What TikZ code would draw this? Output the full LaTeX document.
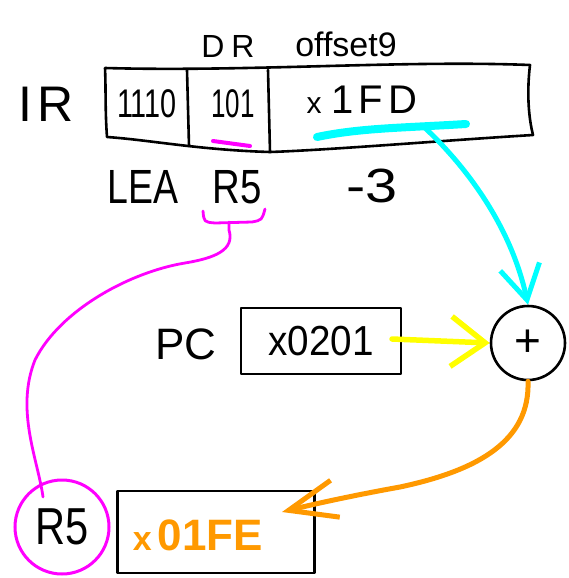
\documentclass[tikz,border=0pt]{standalone}
\usepackage{fontspec}
\setmainfont{Liberation Sans}
\usetikzlibrary{arrows.meta}
\definecolor{hlcyan}{RGB}{0,255,255}
\definecolor{hlyellow}{RGB}{255,255,0}
\definecolor{hlorange}{RGB}{255,153,0}
\definecolor{hlmagenta}{RGB}{255,0,255}
\newcommand{\fs}[1]{\fontsize{#1}{#1}\selectfont}
\tikzset{
  txt/.style={inner sep=0pt, anchor=center, text=black},
  ink/.style={line width=2.6pt, line cap=round, line join=round},
  pen/.style={line width=2.8pt, line cap=round, line join=round},
  marker/.style={line cap=round, line join=round},
}
\begin{document}
\begin{tikzpicture}[x=1pt,y=-1pt]
\useasboundingbox (0,0) rectangle (569,578);

% field names above the instruction register
\node[txt, font=\fs{32}] (dr) at (228,46) {D\hspace{7pt}R};
\node[txt, font=\fs{34}] (off) at (346,44) {offset9};

% instruction register
\node[txt, font=\fs{50}] (ir) at (46,104) {I\hspace{6pt}R};
\coordinate (irtl) at (105,68);
\coordinate (irtr) at (530,65);
\coordinate (irbr) at (533,135);
\coordinate (irbm) at (270,152);
\coordinate (irbl) at (107,137);
\draw[ink] (irtl) .. controls (250,72) and (400,60) .. (irtr)
  .. controls (527,90) and (528,115) .. (irbr)
  .. controls (450,140) and (330,150) .. (irbm)
  .. controls (200,150) and (150,140) .. (irbl)
  .. controls (105,110) and (106,90) .. (irtl);
\draw[ink] (187,70) -- (189,146);
\draw[ink] (268,70) -- (270,152);

\node[txt, font=\fs{40}] (opc) at (147,104) {\scalebox{0.72}[1]{1110}};
\node[txt, font=\fs{40}] (dreg) at (233,104) {\scalebox{0.65}[1]{101}};
\node[txt, font=\fs{40}] (offv) at (362,100) {\fs{30}x\hspace{10pt}\fs{40}1\hspace{5pt}F\hspace{5pt}D};

% highlight strokes
\draw[hlmagenta, marker, line width=4pt] (213,141) -- (250,146);
\draw[hlcyan, marker, line width=8pt] (317,137) .. controls (360,128) and (400,128) .. (466,124);

% assembly form
\node[txt, font=\fs{48}] (lea) at (143,187) {\scalebox{0.78}[1]{LEA}};
\node[txt, font=\fs{48}] (rd) at (237,187) {\scalebox{0.8}[1]{R5}};
\node[txt, font=\fs{48}] (imm) at (372,186) {\scalebox{1.2}[1]{-3}};

% brace under R5 and its wire to the register
\draw[hlmagenta, pen] (203,211) .. controls (204,222) .. (215,223)
  -- (252,222) .. controls (262,220) .. (265,209);
\coordinate (bracetip) at (229,222);
\coordinate (wireend) at (43,497);
\draw[hlmagenta, pen] (bracetip) -- (229,230)
  .. controls (235,250) and (215,258) .. (185,263)
  .. controls (130,272) and (60,310) .. (35,360)
  .. controls (15,410) and (38,460) .. (wireend);

% program counter
\node[txt, font=\fs{44}] (pc) at (186,344) {PC};
\node[ink, draw, minimum width=160pt, minimum height=66pt, inner sep=0pt,
      font=\fs{42}] (pcval) at (321,341) {\scalebox{0.92}[1]{x0201}};

% adder
\node[ink, draw, circle, minimum size=74pt, inner sep=0pt, font=\fs{46}] (plus) at (528,343) {+};

% destination register and result
\node[draw=hlmagenta, line width=3pt, circle, minimum size=94pt, inner sep=0pt,
      font=\fs{52}] (r5) at (62,527) {\scalebox{0.8}[1]{R5}};
\node[ink, draw, minimum width=197pt, minimum height=82pt, inner sep=0pt] (res) at (216,532) {};
\node[txt, text=hlorange, font=\bfseries\fs{44}] (resv) at (198,535) {\fs{34}x\hspace{6pt}\fs{44}01FE};

% data flow
\coordinate (cyanstart) at (424,127);
\draw[hlcyan, marker, line width=5pt, -{Straight Barb[length=34pt,width=40pt]}]
  (cyanstart) .. controls (470,170) and (512,230) .. (plus.north);

\coordinate (pcout) at (392,339);
\draw[hlyellow, marker, line width=5.5pt, -{Straight Barb[length=34pt,width=50pt]}]
  (pcout) -- (plus.west);

\coordinate (restip) at (282,512);
\draw[hlorange, marker, line width=5pt, -{Straight Barb[length=48pt,width=38pt]}]
  (plus.south) .. controls (530,440) and (480,470) .. (400,487)
  .. controls (350,496) and (310,505) .. (restip);
\end{tikzpicture}
\end{document}
